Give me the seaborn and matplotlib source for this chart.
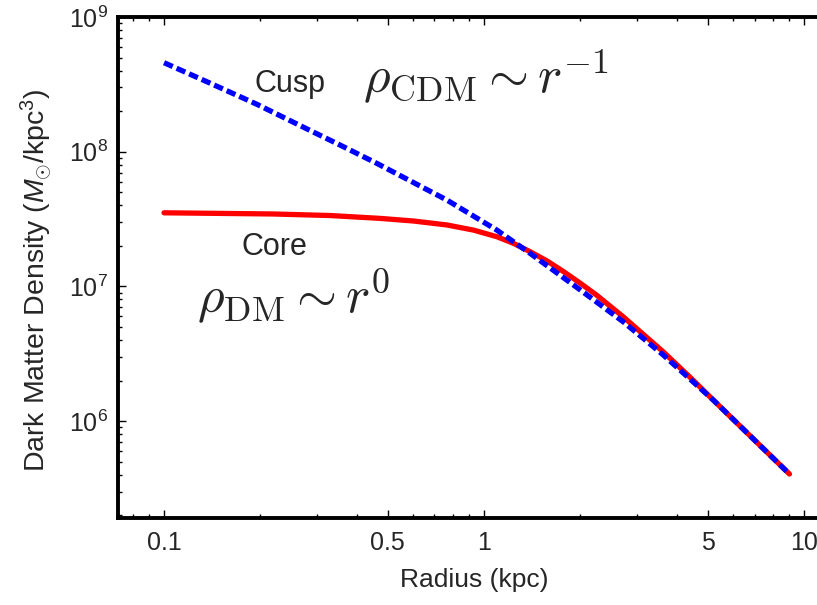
import matplotlib
matplotlib.use("Agg")
import matplotlib.pyplot as plt
import seaborn as sns
import pandas as pd
from matplotlib.ticker import FixedLocator, FixedFormatter, LogLocator, NullFormatter

# ---- data ----
radius_cusp = [0.1, 0.136, 0.195, 0.279, 0.355, 0.462, 0.765, 1.096, 1.393, 2.0, 2.72, 3.63, 5.21, 9.0]
density_cusp = [4.58e8, 3.31e8, 2.25e8, 1.48e8, 1.12e8, 8.2e7, 4.38e7, 2.62e7, 1.76e7, 9.4e6, 5.47e6, 3.10e6, 1.43e6, 4.05e5]

radius_core = [0.1, 0.219, 0.33, 0.473, 0.601, 0.765, 0.926, 1.096, 1.235, 1.393, 1.57, 1.77,
               2.0, 2.25, 2.72, 3.63, 4.40, 5.21, 9.0]
density_core = [3.52e7, 3.45e7, 3.36e7, 3.2e7, 3.06e7, 2.86e7, 2.62e7, 2.34e7, 2.09e7, 1.81e7, 1.55e7, 1.29e7,
                1.055e7, 8.6e6, 5.96e6, 3.27e6, 2.12e6, 1.43e6, 4.05e5]

x_tick_values = [0.1, 0.5, 1, 5, 10]
x_tick_labels = ["0.1", "0.5", "1", "5", "10"]
y_tick_values = [1e6, 1e7, 1e8, 1e9]
y_tick_labels = [r"$\mathregular{10^{6}}$", r"$\mathregular{10^{7}}$",
                 r"$\mathregular{10^{8}}$", r"$\mathregular{10^{9}}$"]

cusp = pd.DataFrame({"r": radius_cusp, "rho": density_cusp})
core = pd.DataFrame({"r": radius_core, "rho": density_core})

sns.set_theme(style="white")
plt.rcParams["font.family"] = ["Liberation Sans", "DejaVu Sans"]
plt.rcParams["mathtext.fontset"] = "custom"
plt.rcParams["mathtext.rm"] = "Liberation Sans"
plt.rcParams["mathtext.it"] = "Liberation Sans:italic"
plt.rcParams["mathtext.bf"] = "Liberation Sans:bold"

fig = plt.figure(figsize=(8.17, 6.05), dpi=100)
ax = fig.add_axes([118 / 817, 87 / 605, 712 / 817, 501 / 605])

sns.lineplot(data=core, x="r", y="rho", ax=ax, color="#ff0000", lw=3.8,
             sort=False, estimator=None)
sns.lineplot(data=cusp, x="r", y="rho", ax=ax, color="#0000ff", lw=3.8,
             sort=False, estimator=None)
ax.lines[-1].set_dashes([1.8, 0.8])
ax.lines[-1].set_dash_capstyle("butt")

ax.set_xscale("log")
ax.set_yscale("log")
ax.set_xlim(0.0718, 12.05)
ax.set_ylim(1.91e5, 1e9)

ax.xaxis.set_major_locator(FixedLocator(x_tick_values))
ax.xaxis.set_major_formatter(FixedFormatter(x_tick_labels))
ax.xaxis.set_minor_locator(LogLocator(base=10, subs=range(2, 10), numticks=20))
ax.xaxis.set_minor_formatter(NullFormatter())
ax.yaxis.set_major_locator(FixedLocator(y_tick_values))
ax.yaxis.set_major_formatter(FixedFormatter(y_tick_labels))
ax.yaxis.set_minor_locator(LogLocator(base=10, subs=range(2, 10), numticks=20))
ax.yaxis.set_minor_formatter(NullFormatter())

ax.tick_params(which="both", direction="in", bottom=True, left=True, top=True, right=True,
               color="black")
ax.tick_params(which="major", length=6, width=1.0, labelsize=18, pad=9)
ax.tick_params(which="minor", length=3, width=1.0)
ax.tick_params(axis="y", which="major", pad=7)

for s in ax.spines.values():
    s.set_linewidth(2.8)
    s.set_color("black")

ax.set_xlabel("Radius (kpc)", fontsize=19, labelpad=10)
ax.set_ylabel(r"Dark Matter Density ($M_{\odot}$/kpc$^{3}$)", fontsize=20.5)
ax.yaxis.set_label_coords(-0.09, 0.475)

ax.text(0.192, 2.79e8, "Cusp", fontsize=22, ha="left", va="baseline")
ax.text(0.175, 1.71e7, "Core", fontsize=22, ha="left", va="baseline")
ax.text(0.419, 2.73e8, r"$\rho_{\rm CDM} \sim r^{-1}$", fontsize=37,
        ha="left", va="baseline", math_fontfamily="cm")
ax.text(0.1268, 6.34e6, r"$\rho_{\rm DM} \sim r^{0}$", fontsize=37,
        ha="left", va="baseline", math_fontfamily="cm")

fig.savefig("out.png", dpi=100)
